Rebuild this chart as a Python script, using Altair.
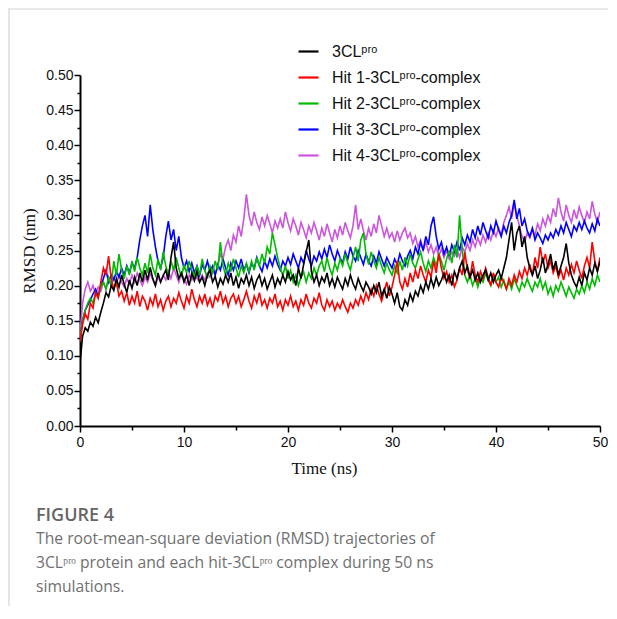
import altair as alt
import pandas as pd

# ---------------- data (RMSD in nm, sampled every 0.25 ns, 0-50 ns) ----------------
SERIES = ["3CLᵖʳᵒ", "Hit 1-3CLᵖʳᵒ-complex", "Hit 2-3CLᵖʳᵒ-complex",
          "Hit 3-3CLᵖʳᵒ-complex", "Hit 4-3CLᵖʳᵒ-complex"]
COLORS = ["#000000", "#ff0000", "#00bb00", "#0000ff", "#cc55dd"]

RMSD_3CL = [
    0.090, 0.128, 0.140, 0.135, 0.148,
    0.142, 0.155, 0.147, 0.162, 0.175, 0.190, 0.184, 0.200, 0.193, 0.210, 0.198, 0.215,
    0.202, 0.190, 0.208, 0.196, 0.212, 0.200, 0.218, 0.205, 0.222, 0.208, 0.226, 0.210,
    0.200, 0.218, 0.205, 0.214, 0.222, 0.208, 0.240, 0.262, 0.225, 0.210, 0.218, 0.205,
    0.215, 0.200, 0.218, 0.207, 0.220, 0.205, 0.212, 0.200, 0.215, 0.222, 0.205, 0.213,
    0.198, 0.210, 0.202, 0.215, 0.205, 0.218, 0.200, 0.212, 0.196, 0.210, 0.203, 0.215,
    0.200, 0.212, 0.196, 0.208, 0.215, 0.200, 0.210, 0.195, 0.205, 0.215, 0.198, 0.210,
    0.202, 0.215, 0.205, 0.220, 0.208, 0.215, 0.200, 0.225, 0.210, 0.230, 0.248, 0.265,
    0.220, 0.205, 0.215, 0.200, 0.212, 0.205, 0.218, 0.200, 0.210, 0.198, 0.212, 0.203,
    0.195, 0.210, 0.200, 0.215, 0.203, 0.195, 0.210, 0.200, 0.192, 0.205, 0.198, 0.188,
    0.200, 0.190, 0.205, 0.185, 0.195, 0.182, 0.198, 0.188, 0.175, 0.190, 0.170, 0.165,
    0.180, 0.172, 0.188, 0.178, 0.192, 0.185, 0.200, 0.190, 0.205, 0.195, 0.210, 0.198,
    0.212, 0.200, 0.208, 0.218, 0.205, 0.215, 0.200, 0.220, 0.210, 0.225, 0.235, 0.218,
    0.228, 0.212, 0.222, 0.208, 0.218, 0.205, 0.215, 0.222, 0.208, 0.218, 0.205, 0.215,
    0.222, 0.210, 0.225, 0.240, 0.265, 0.290, 0.250, 0.275, 0.285, 0.255, 0.270, 0.240,
    0.225, 0.215, 0.228, 0.210, 0.222, 0.240, 0.218, 0.230, 0.245, 0.222, 0.235, 0.215,
    0.228, 0.240, 0.260, 0.232, 0.215, 0.205, 0.198, 0.212, 0.200, 0.218, 0.208, 0.225,
    0.215, 0.232, 0.220, 0.235,
]

RMSD_HIT1 = [
    0.120, 0.145, 0.160, 0.152, 0.175,
    0.168, 0.190, 0.182, 0.205, 0.225, 0.215, 0.242, 0.210, 0.195, 0.205, 0.185, 0.192,
    0.178, 0.190, 0.172, 0.185, 0.175, 0.192, 0.170, 0.185, 0.178, 0.165, 0.182, 0.172,
    0.188, 0.170, 0.180, 0.165, 0.178, 0.185, 0.170, 0.182, 0.175, 0.190, 0.178, 0.168,
    0.185, 0.175, 0.195, 0.180, 0.170, 0.185, 0.175, 0.188, 0.172, 0.182, 0.168, 0.185,
    0.178, 0.192, 0.175, 0.185, 0.170, 0.182, 0.188, 0.175, 0.185, 0.170, 0.180, 0.192,
    0.178, 0.168, 0.185, 0.175, 0.190, 0.172, 0.180, 0.168, 0.182, 0.175, 0.188, 0.170,
    0.178, 0.165, 0.180, 0.172, 0.185, 0.170, 0.178, 0.165, 0.180, 0.172, 0.188, 0.175,
    0.168, 0.182, 0.175, 0.190, 0.172, 0.165, 0.180, 0.170, 0.178, 0.165, 0.175, 0.168,
    0.180, 0.170, 0.162, 0.175, 0.168, 0.180, 0.172, 0.185, 0.175, 0.190, 0.180, 0.195,
    0.185, 0.200, 0.188, 0.178, 0.192, 0.205, 0.185, 0.198, 0.215, 0.235, 0.205, 0.195,
    0.210, 0.198, 0.218, 0.205, 0.222, 0.210, 0.228, 0.215, 0.205, 0.222, 0.212, 0.235,
    0.218, 0.245, 0.225, 0.210, 0.220, 0.205, 0.215, 0.198, 0.208, 0.225, 0.215, 0.248,
    0.222, 0.210, 0.235, 0.215, 0.205, 0.220, 0.210, 0.225, 0.212, 0.200, 0.218, 0.205,
    0.198, 0.212, 0.205, 0.195, 0.210, 0.200, 0.215, 0.205, 0.220, 0.210, 0.225, 0.215,
    0.230, 0.215, 0.240, 0.225, 0.255, 0.232, 0.245, 0.225, 0.235, 0.218, 0.228, 0.212,
    0.222, 0.208, 0.225, 0.215, 0.230, 0.218, 0.235, 0.222, 0.210, 0.228, 0.240, 0.225,
    0.262, 0.235, 0.220, 0.240,
]

RMSD_HIT2 = [
    0.125, 0.150, 0.165, 0.175, 0.182,
    0.175, 0.190, 0.183, 0.198, 0.205, 0.195, 0.212, 0.200, 0.235, 0.215, 0.245, 0.222,
    0.210, 0.228, 0.215, 0.235, 0.220, 0.240, 0.225, 0.215, 0.232, 0.218, 0.245, 0.225,
    0.215, 0.238, 0.222, 0.248, 0.228, 0.215, 0.235, 0.222, 0.240, 0.225, 0.212, 0.230,
    0.218, 0.235, 0.222, 0.212, 0.228, 0.215, 0.238, 0.222, 0.210, 0.228, 0.218, 0.235,
    0.222, 0.262, 0.228, 0.215, 0.232, 0.220, 0.238, 0.225, 0.212, 0.228, 0.218, 0.232,
    0.220, 0.235, 0.222, 0.240, 0.228, 0.245, 0.232, 0.255, 0.245, 0.275, 0.258, 0.240,
    0.225, 0.215, 0.228, 0.210, 0.222, 0.205, 0.215, 0.200, 0.212, 0.220, 0.205, 0.218,
    0.210, 0.225, 0.215, 0.228, 0.235, 0.220, 0.240, 0.225, 0.215, 0.232, 0.222, 0.238,
    0.228, 0.245, 0.232, 0.222, 0.240, 0.255, 0.235, 0.265, 0.275, 0.245, 0.230, 0.248,
    0.235, 0.225, 0.240, 0.228, 0.218, 0.232, 0.222, 0.215, 0.228, 0.218, 0.235, 0.222,
    0.240, 0.228, 0.245, 0.232, 0.225, 0.238, 0.248, 0.232, 0.220, 0.235, 0.225, 0.240,
    0.228, 0.245, 0.235, 0.222, 0.238, 0.250, 0.232, 0.258, 0.240, 0.300, 0.252, 0.215,
    0.205, 0.215, 0.200, 0.210, 0.198, 0.212, 0.205, 0.218, 0.208, 0.200, 0.215, 0.205,
    0.212, 0.198, 0.208, 0.195, 0.205, 0.195, 0.210, 0.200, 0.192, 0.205, 0.198, 0.210,
    0.200, 0.192, 0.205, 0.198, 0.210, 0.195, 0.205, 0.188, 0.198, 0.185, 0.200, 0.192,
    0.205, 0.195, 0.185, 0.198, 0.190, 0.182, 0.195, 0.188, 0.200, 0.190, 0.205, 0.195,
    0.210, 0.200, 0.215, 0.205,
]

RMSD_HIT3 = [
    0.125, 0.150, 0.165, 0.172, 0.180,
    0.188, 0.195, 0.185, 0.200, 0.210, 0.222, 0.205, 0.215, 0.208, 0.220, 0.212, 0.225,
    0.215, 0.228, 0.218, 0.232, 0.225, 0.240, 0.265, 0.285, 0.300, 0.270, 0.315, 0.280,
    0.255, 0.235, 0.225, 0.240, 0.270, 0.292, 0.265, 0.280, 0.250, 0.270, 0.240, 0.225,
    0.235, 0.220, 0.232, 0.218, 0.228, 0.215, 0.230, 0.222, 0.235, 0.220, 0.228, 0.215,
    0.230, 0.222, 0.238, 0.225, 0.215, 0.232, 0.222, 0.235, 0.225, 0.238, 0.222, 0.230,
    0.218, 0.232, 0.225, 0.240, 0.228, 0.220, 0.235, 0.225, 0.238, 0.228, 0.242, 0.230,
    0.222, 0.235, 0.228, 0.240, 0.230, 0.245, 0.235, 0.225, 0.240, 0.232, 0.250, 0.238,
    0.228, 0.242, 0.235, 0.248, 0.238, 0.252, 0.240, 0.258, 0.245, 0.235, 0.250, 0.240,
    0.232, 0.248, 0.238, 0.255, 0.242, 0.235, 0.250, 0.240, 0.230, 0.245, 0.235, 0.228,
    0.242, 0.232, 0.248, 0.238, 0.228, 0.240, 0.232, 0.225, 0.238, 0.230, 0.245, 0.235,
    0.228, 0.242, 0.250, 0.238, 0.255, 0.245, 0.262, 0.250, 0.270, 0.258, 0.285, 0.298,
    0.270, 0.252, 0.262, 0.245, 0.255, 0.242, 0.258, 0.248, 0.262, 0.250, 0.268, 0.258,
    0.272, 0.262, 0.280, 0.268, 0.285, 0.272, 0.290, 0.278, 0.268, 0.285, 0.275, 0.292,
    0.280, 0.270, 0.285, 0.275, 0.290, 0.300, 0.322, 0.295, 0.310, 0.285, 0.295, 0.278,
    0.270, 0.282, 0.265, 0.275, 0.268, 0.260, 0.272, 0.265, 0.275, 0.268, 0.280, 0.272,
    0.285, 0.275, 0.290, 0.280, 0.270, 0.285, 0.278, 0.290, 0.280, 0.292, 0.282, 0.275,
    0.288, 0.278, 0.295, 0.285,
]

RMSD_HIT4 = [
    0.130, 0.175, 0.195, 0.205, 0.192,
    0.200, 0.188, 0.198, 0.192, 0.205, 0.195, 0.210, 0.200, 0.212, 0.202, 0.215, 0.205,
    0.198, 0.210, 0.202, 0.215, 0.205, 0.218, 0.208, 0.200, 0.212, 0.205, 0.218, 0.208,
    0.200, 0.212, 0.205, 0.215, 0.208, 0.220, 0.210, 0.225, 0.215, 0.205, 0.218, 0.210,
    0.202, 0.215, 0.208, 0.218, 0.210, 0.205, 0.215, 0.208, 0.218, 0.212, 0.225, 0.215,
    0.230, 0.245, 0.238, 0.255, 0.265, 0.250, 0.272, 0.262, 0.285, 0.270, 0.295, 0.330,
    0.300, 0.285, 0.305, 0.290, 0.280, 0.298, 0.285, 0.300, 0.288, 0.275, 0.292, 0.282,
    0.295, 0.282, 0.305, 0.290, 0.278, 0.295, 0.285, 0.272, 0.290, 0.280, 0.268, 0.285,
    0.275, 0.290, 0.278, 0.265, 0.282, 0.270, 0.288, 0.275, 0.262, 0.280, 0.268, 0.285,
    0.272, 0.290, 0.278, 0.268, 0.285, 0.315, 0.280, 0.295, 0.278, 0.265, 0.282, 0.270,
    0.288, 0.275, 0.300, 0.285, 0.270, 0.282, 0.268, 0.275, 0.262, 0.278, 0.265, 0.275,
    0.282, 0.268, 0.275, 0.260, 0.270, 0.255, 0.265, 0.250, 0.262, 0.248, 0.258, 0.245,
    0.255, 0.242, 0.252, 0.240, 0.250, 0.238, 0.248, 0.242, 0.252, 0.240, 0.255, 0.248,
    0.260, 0.250, 0.265, 0.255, 0.268, 0.258, 0.272, 0.262, 0.275, 0.265, 0.278, 0.270,
    0.282, 0.272, 0.290, 0.300, 0.312, 0.295, 0.318, 0.300, 0.285, 0.270, 0.262, 0.275,
    0.268, 0.280, 0.272, 0.288, 0.278, 0.295, 0.285, 0.300, 0.290, 0.310, 0.298, 0.325,
    0.305, 0.292, 0.315, 0.300, 0.290, 0.308, 0.295, 0.312, 0.300, 0.290, 0.305, 0.295,
    0.320, 0.302, 0.290, 0.305,
]

VALUES = [RMSD_3CL, RMSD_HIT1, RMSD_HIT2, RMSD_HIT3, RMSD_HIT4]
T_END = 50.0

Y_TICKS = [round(0.025 * i, 3) for i in range(21)]
X_TICKS = [5 * i for i in range(11)]

CAPTION_HEAD = "FIGURE 4"
CAPTION_BODY = ("The root-mean-square deviation (RMSD) trajectories of\n"
                "3CLᵖʳᵒ protein and each hit-3CLᵖʳᵒ complex during 50 ns\n"
                "simulations.")

# ---------------- build long table (drawn bottom -> top: Hit 4 ... 3CLpro) ----------------
rows = []
for name, vals in reversed(list(zip(SERIES, VALUES))):
    n = len(vals)
    for i, v in enumerate(vals):
        rows.append({"series": name, "time": T_END * i / (n - 1), "rmsd": v})
df = pd.DataFrame(rows)

FONT = "Liberation Sans"
SERIF = "Liberation Serif"

lines = alt.Chart(df).mark_line(strokeWidth=1.6, clip=True).encode(
    x=alt.X("time:Q",
            scale=alt.Scale(domain=[0, 50], nice=False, zero=False),
            axis=alt.Axis(values=X_TICKS, title="Time (ns)",
                          labelExpr="datum.value % 10 == 0 ? datum.label : ''",
                          tickSize={"condition": {"test": "datum.value % 10 == 0", "value": 6}, "value": 4},
                          labelFlush=False, labelOverlap=False, labelPadding=3,
                          titleX=244, titleY=34, titleFontSize=17)),
    y=alt.Y("rmsd:Q",
            scale=alt.Scale(domain=[0, 0.5], nice=False),
            axis=alt.Axis(values=Y_TICKS, title="RMSD (nm)",
                          labelExpr="round(datum.value*40) % 2 == 0 ? format(datum.value, '.2f') : ''",
                          tickSize={"condition": {"test": "round(datum.value*40) % 2 == 0", "value": 6}, "value": 3},
                          labelOverlap=False, labelPadding=1, titlePadding=7,
                          titleFontSize=17)),
    color=alt.Color("series:N",
                    scale=alt.Scale(domain=SERIES, range=COLORS),
                    legend=alt.Legend(title=None, orient="none", legendX=217, legendY=-35,
                                      symbolType="stroke", symbolSize=400,
                                      symbolStrokeWidth=2.2, labelFont=FONT,
                                      labelFontSize=16, labelColor="#111111",
                                      labelOffset=12, rowPadding=6, padding=0,
                                      labelLimit=400)),
)

head = alt.Chart(pd.DataFrame({"t": [CAPTION_HEAD]})).mark_text(
    align="left", baseline="middle", font="Open Sans", fontSize=18,
    fontWeight=600, color="#666666"
).encode(text="t:N", x=alt.value(-44), y=alt.value(441))

body = alt.Chart(pd.DataFrame({"t": [CAPTION_BODY]})).mark_text(
    align="left", baseline="middle", font="Open Sans", fontSize=15.7,
    color="#707070", lineBreak="\n", lineHeight=24
).encode(text="t:N", x=alt.value(-44), y=alt.value(464))

frame_top = alt.Chart(pd.DataFrame({"k": [0]})).mark_rule(
    color="#d6d6d6", strokeWidth=1.2
).encode(x=alt.value(-72), x2=alt.value(540), y=alt.value(-66))

frame_left = alt.Chart(pd.DataFrame({"k": [0]})).mark_rule(
    color="#d6d6d6", strokeWidth=1.2
).encode(x=alt.value(-71), y=alt.value(-66), y2=alt.value(540))

chart = alt.layer(frame_top, frame_left, lines, head, body).properties(
    width=520, height=351,
    autosize=alt.AutoSizeParams(type="none"),
    padding={"left": 72, "top": 67, "right": 8, "bottom": 180},
).configure_view(stroke=None).configure_axis(
    grid=False, domainColor="#000000", domainWidth=2, tickColor="#000000",
    tickWidth=1.5, labelFont=FONT, labelFontSize=14, labelColor="#111111",
    titleFont=SERIF, titleFontWeight="normal", titleColor="#111111",
)

chart.save("out.html", embed_options={"renderer": "svg", "actions": False})
